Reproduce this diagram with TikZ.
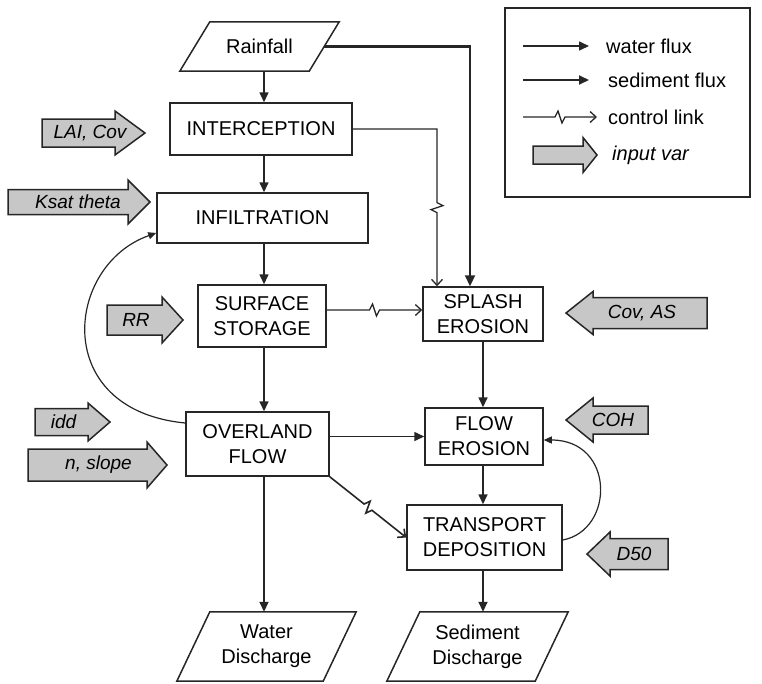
\documentclass[tikz,border=0pt]{standalone}
\usepackage{fontspec}
\setmainfont{Liberation Sans}
\usetikzlibrary{arrows.meta,calc}
\tikzset{
 boxline/.style={line width=1.5pt, draw=black!85},
 proc/.style={draw=black!85, line width=1.5pt, rectangle, align=center, inner sep=0pt, font=\fontsize{20}{25}\selectfont},
 paratext/.style={align=center, inner sep=0pt, font=\fontsize{20}{25}\selectfont},
 wf/.style={line width=1.6pt, draw=black!85, -{Triangle[length=10pt,width=9pt]}},
 sf/.style={line width=2.2pt, draw=black!85, -{Triangle[length=11pt,width=10pt]}},
 cf/.style={line width=1.2pt, draw=black!85, -{Triangle[length=8pt,width=7pt]}},
 ctrl/.style={line width=1.3pt, draw=black!85, -{Straight Barb[length=6pt,width=11pt]}},
 zz/.style={to path={-- ($(\tikztostart)!0.5!(\tikztotarget)!5pt!(\tikztostart)$) -- ($(\tikztostart)!0.5!(\tikztotarget)!2pt!(\tikztostart)!6pt!90:(\tikztotarget)$) -- ($(\tikztostart)!0.5!(\tikztotarget)!2pt!(\tikztotarget)!6pt!90:(\tikztostart)$) -- ($(\tikztostart)!0.5!(\tikztotarget)!5pt!(\tikztotarget)$) -- (\tikztotarget)}},
 inarrow/.style={draw=black!85, line width=1.5pt, fill=black!22, line join=miter},
 intext/.style={font=\fontsize{19}{23}\selectfont\itshape, inner sep=0pt},
 legtext/.style={font=\fontsize{20}{24}\selectfont, anchor=west, inner sep=0pt},
}
\newcommand\drawpara[2]{\draw[boxline] ([xshift=-#2pt]#1.south west) -- ([xshift=#2pt]#1.north west) -- ([xshift=#2pt]#1.north east) -- ([xshift=-#2pt]#1.south east) -- cycle;}
% name, xl, xb, xt, yc, bh, hh, text, textx
\newcommand\inarrR[9]{%
 \draw[inarrow] (#2,#5-#6) -- (#3,#5-#6) -- (#3,#5-#7) -- (#4,#5) -- (#3,#5+#7) -- (#3,#5+#6) -- (#2,#5+#6) -- cycle;
 \node[intext] (#1) at (#9,#5) {#8};}
% name, xt, xb, xr, yc, bh, hh, text, textx
\newcommand\inarrL[9]{%
 \draw[inarrow] (#4,#5-#6) -- (#3,#5-#6) -- (#3,#5-#7) -- (#2,#5) -- (#3,#5+#7) -- (#3,#5+#6) -- (#4,#5+#6) -- cycle;
 \node[intext] (#1) at (#9,#5) {#8};}
\begin{document}
\begin{tikzpicture}[x=1pt,y=-1pt]
\useasboundingbox (0,0) rectangle (762,683);
\coordinate (colA) at (264,0);
\coordinate (colB) at (483,0);
\coordinate (colC) at (437,0);
\coordinate (colD) at (470,0);

% process boxes
\node[paratext, minimum width=129, minimum height=49] (rain) at (259.5,46.5) {Rainfall};
\drawpara{rain}{15}
\node[proc, minimum width=182, minimum height=52] (intc) at (261,129) {INTERCEPTION};
\node[proc, minimum width=211, minimum height=50] (infil) at (262.5,218) {INFILTRATION};
\node[proc, minimum width=128, minimum height=62] (surf) at (262,316) {SURFACE\\STORAGE};
\node[proc, minimum width=143, minimum height=64] (over) at (257.5,444) {OVERLAND\\FLOW};
\node[proc, minimum width=120, minimum height=54] (splash) at (483,314) {SPLASH\\EROSION};
\node[proc, minimum width=118, minimum height=57] (flow) at (484,436.5) {FLOW\\EROSION};
\node[proc, minimum width=155, minimum height=65] (trans) at (484.5,537.5) {TRANSPORT\\DEPOSITION};
\node[paratext, minimum width=146, minimum height=69] (water) at (266.5,646.5) {Water\\Discharge};
\drawpara{water}{16.5}
\node[paratext, minimum width=148, minimum height=69] (sed) at (477.5,646.5) {Sediment\\Discharge};
\drawpara{sed}{16.5}

% connectors
\draw[wf] (rain.south -| colA) -- (intc.north -| colA);
\draw[sf] (rain.east) -| (splash.north -| colD);
\coordinate (ia) at (intc.east -| colC);
\coordinate (ib) at (splash.north -| colC);
\draw[ctrl] (intc.east) -- (ia) to[zz] (ib);
\draw[wf] (intc.south -| colA) -- (infil.north -| colA);
\draw[wf] (infil.south -| colA) -- (surf.north -| colA);
\coordinate (sa) at ([yshift=6pt]surf.east);
\coordinate (sb) at (sa -| splash.west);
\draw[ctrl] (sa) to[zz] (sb);
\draw[wf] (surf.south -| colA) -- (over.north -| colA);
\draw[wf] (splash.south -| colB) -- (flow.north -| colB);
\draw[wf] (flow.west -| over.east) -- (flow.west);
\draw[ctrl, line width=1.6pt] (over.south east) to[zz] (trans.west);
\draw[wf] (flow.south -| colB) -- (trans.north -| colB);
\draw[wf] (trans.south -| colB) -- (sed.north -| colB);
\draw[wf] (over.south -| colA) -- (water.north -| colA);
\draw[cf] ([yshift=21pt]over.west) .. controls (50,410) and (65,265) .. ([yshift=-15pt]infil.west);
\draw[cf] ([yshift=-2.5pt]trans.east) .. controls (615,530) and (615,440) .. ([yshift=-3.5pt]flow.east);

% input variables
\inarrR{lai}{42}{115}{145}{133}{14}{22}{LAI, Cov}{90}
\inarrR{ksat}{8}{128}{150}{202}{12.5}{22}{Ksat theta}{78}
\inarrR{rr}{107}{162}{183}{320}{15}{23}{RR}{136}
\inarrR{idd}{35}{88}{110}{422}{13.5}{19}{idd}{63.5}
\inarrR{nslope}{28}{147}{167}{465}{16}{23}{n, slope}{98.5}
\inarrL{covas}{566}{593}{707}{313}{15.5}{21.5}{Cov, AS}{642}
\inarrL{coh}{566}{593}{648}{420}{14}{22}{COH}{613}
\inarrL{dfifty}{587}{610}{668}{554}{15.5}{22}{D50}{634}

% legend
\node[draw=black!85, line width=1.5pt, minimum width=245, minimum height=189, inner sep=0pt] (legend) at (627.5,102.5) {};
\coordinate (lw1) at (523,46); \coordinate (lw2) at (589,46);
\draw[wf] (lw1) -- (lw2);
\node[legtext] (lwt) at (606,46) {water flux};
\coordinate (ls1) at (523,80); \coordinate (ls2) at (589,80);
\draw[wf, line width=1.9pt] (ls1) -- (ls2);
\node[legtext] (lst) at (608,80) {sediment flux};
\coordinate (lc1) at (523,117); \coordinate (lc2) at (597,117);
\draw[ctrl] (lc1) to[zz] (lc2);
\node[legtext] (lct) at (608,117) {control link};
\draw[inarrow] (533,146) -- (583,146) -- (583,137.5) -- (597,155) -- (583,172.5) -- (583,164) -- (533,164) -- cycle;
\node[legtext, font=\fontsize{20}{24}\selectfont\itshape] (lit) at (612,155) {input var};
\end{tikzpicture}
\end{document}
